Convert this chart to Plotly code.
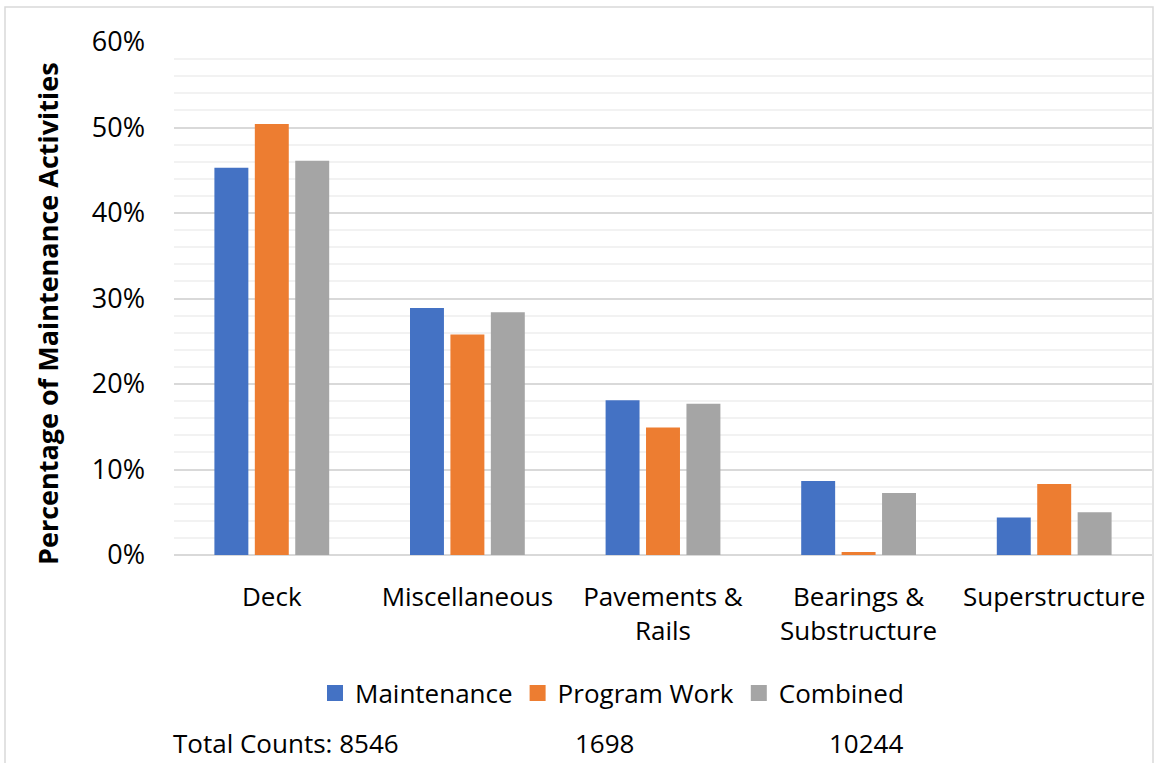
import plotly.graph_objects as go

categories = ["Deck", "Miscellaneous", "Pavements &<br>Rails", "Bearings &<br>Substructure", "Superstructure"]
maintenance = [0.453, 0.289, 0.181, 0.0865, 0.044]
program_work = [0.504, 0.258, 0.149, 0.0035, 0.083]
combined = [0.461, 0.284, 0.177, 0.0725, 0.050]
series_names = ["Maintenance", "Program Work", "Combined"]
series_colors = ["#4472C4", "#ED7D31", "#A5A5A5"]
total_counts = ["Total Counts: 8546", "1698", "10244"]
y_ticks = [0, 0.1, 0.2, 0.3, 0.4, 0.5, 0.6]
y_tick_labels = ["0%", "10%", "20%", "30%", "40%", "50%", "60%"]

FONT = "Open Sans"
FS = 26
fig = go.Figure()
for name, vals, col in zip(series_names, [maintenance, program_work, combined], series_colors):
    fig.add_trace(go.Bar(x=categories, y=vals, name=name, showlegend=False,
                         marker=dict(color=col, line=dict(width=0))))
# legend entries with larger square swatches
for name, col in zip(series_names, series_colors):
    fig.add_trace(go.Scatter(x=[None], y=[None], mode="markers", name=name,
                             marker=dict(symbol="square", size=16, color=col)))

W, H = 1154, 763
L, R, T, B = 174, 2, 42, 208
pw, ph = W - L - R, H - T - B

def px(xp):
    return (xp - L) / pw

def py(yp):
    return (H - B - yp) / ph

fig.update_layout(
    width=W, height=H,
    margin=dict(l=L, r=R, t=T, b=B),
    paper_bgcolor="white", plot_bgcolor="white",
    font=dict(family=FONT, size=FS, color="#000000"),
    barmode="group", bargap=0.38, bargroupgap=0.16,
    showlegend=True,
    legend=dict(orientation="h", x=px(612), xanchor="center", y=py(693), yanchor="middle",
                font=dict(size=FS), traceorder="normal", itemwidth=30,
                bgcolor="rgba(0,0,0,0)"),
    xaxis=dict(showgrid=False, showline=False, ticks="", tickfont=dict(size=FS),
               ticklabelstandoff=24),
    yaxis=dict(range=[0, 0.6], tickvals=y_ticks, ticktext=y_tick_labels,
               showgrid=True, gridcolor="#D9D9D9", gridwidth=2,
               zeroline=True, zerolinecolor="#D9D9D9", zerolinewidth=2,
               showline=False, ticks="", tickfont=dict(size=FS + 1), ticklabelstandoff=28,
               minor=dict(dtick=0.02, showgrid=True, gridcolor="#F2F2F2", gridwidth=2)),
)

fig.add_annotation(text="<b>Percentage of Maintenance Activities</b>", textangle=-90,
                   xref="paper", yref="paper", x=px(47), y=py(314), xanchor="center", yanchor="middle",
                   showarrow=False, font=dict(size=27))

count_x = [286, 604, 866]
for txt, cx in zip(total_counts, count_x):
    fig.add_annotation(text=txt, xref="paper", yref="paper", x=px(cx), y=py(743),
                       xanchor="center", yanchor="middle", showarrow=False, font=dict(size=FS))

fig.add_shape(type="rect", xref="paper", yref="paper", x0=px(5), x1=px(1153), y0=py(770), y1=py(7),
              line=dict(color="#D9D9D9", width=1.5), layer="below")

fig.write_html("out.html")
